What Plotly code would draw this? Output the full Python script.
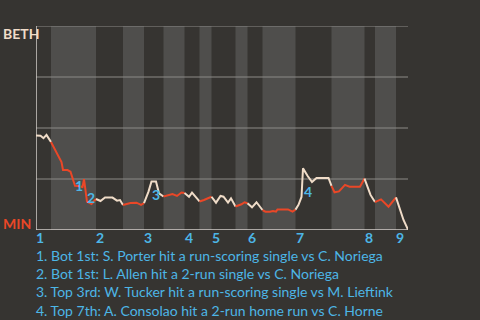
import plotly.graph_objects as go

# Half-inning boundaries (play index)
half_starts = [0, 10, 40, 58, 72, 85, 99, 109, 117, 133, 141, 151, 173, 197, 219, 226, 240, 248]
inning_labels = ["1", "2", "3", "4", "5", "6", "7", "8", "9"]

# Win probability for BETH (%) by play index
plays = [0, 3, 5, 7, 9, 10,
         12, 15, 17, 18, 21, 23, 25, 26, 28, 31, 32, 33, 34, 37, 40,
         43, 46, 51, 54, 56, 58,
         63, 67, 70, 72,
         75, 77, 80, 82, 85,
         91, 94, 97, 99,
         102, 104, 107, 109,
         112, 117,
         120, 123, 125, 128, 130, 133,
         137, 139, 141,
         144, 147, 150, 151,
         153, 156, 158, 160, 161, 168, 171, 173,
         175, 177, 178, 181, 184, 187, 195, 197,
         199, 202, 206, 209, 216, 219,
         222, 223, 226,
         230, 235, 240,
         243, 245, 248]
wp_beth = [46.3, 46.2, 45.0, 46.6, 44.3, 43.1,
           40.3, 35.9, 33.3, 29.4, 29.4, 28.6, 23.7, 21.7, 21.6, 21.1, 24.9, 19.6, 13.9, 12.7, 15.2,
           14.2, 15.9, 15.9, 14.4, 14.7, 12.3,
           13.2, 13.4, 12.3, 13.2,
           18.8, 23.8, 23.8, 18.0, 16.4,
           17.6, 16.7, 18.4, 18.1,
           16.3, 18.3, 16.0, 14.0,
           14.7, 16.3,
           13.4, 16.7, 16.3, 13.4, 15.5, 11.5,
           12.6, 13.6, 13.1,
           11.1, 13.6, 10.6, 9.8,
           9.0, 9.0, 9.3, 9.0, 10.1, 10.1, 9.0, 10.0,
           12.3, 16.2, 30.2, 26.6, 23.5, 25.5, 25.5, 21.6,
           18.5, 18.9, 22.1, 21.2, 21.2, 25.2,
           19.6, 17.2, 13.7,
           15.0, 11.4, 16.0,
           9.8, 4.9, 0.2]

# Key events
event_ids = ["1", "2", "3", "4"]
event_play = [28.7, 36.7, 80, 181.3]
event_wp = [21.6, 15.7, 17.6, 19.1]
event_text = [
    "1. Bot 1st: S. Porter hit a run-scoring single vs C. Noriega",
    "2. Bot 1st: L. Allen hit a 2-run single vs C. Noriega",
    "3. Top 3rd: W. Tucker hit a run-scoring single vs M. Lieftink",
    "4. Top 7th: A. Consolao hit a 2-run home run vs C. Horne",
]

BG = "#363431"
BAND = "#4f4e4c"
CREAM = "#f0dcc8"
RED = "#ea4727"
BLUE = "#4db6e6"
FONT = "Lato"

fig = go.Figure()

for i in range(len(half_starts) - 1):
    a, b = half_starts[i], half_starts[i + 1]
    xs = [p for p in plays if a <= p <= b]
    ys = [w for p, w in zip(plays, wp_beth) if a <= p <= b]
    fig.add_trace(go.Scatter(
        x=xs, y=ys, mode="lines",
        line=dict(color=CREAM if i % 2 == 0 else RED, width=2),
        hoverinfo="skip", showlegend=False))

shapes = []
for i in range(1, len(half_starts) - 1, 2):
    shapes.append(dict(type="rect", xref="x", yref="y", x0=half_starts[i], x1=half_starts[i + 1],
                       y0=0, y1=100, fillcolor=BAND, line=dict(width=0), layer="below"))
for g in [25, 50, 75, 100]:
    shapes.append(dict(type="line", xref="x", yref="y", x0=0, x1=248, y0=g, y1=g,
                       line=dict(color="#8c8a87", width=1), layer="below"))
shapes.append(dict(type="line", xref="x", yref="y", x0=0, x1=0, y0=0, y1=100,
                   line=dict(color="#d2cdc8", width=1.5), layer="below"))
shapes.append(dict(type="line", xref="x", yref="y", x0=0, x1=248, y0=0, y1=0,
                   line=dict(color="#d2cdc8", width=1.5), layer="below"))

annotations = []
tops = half_starts[0:-1:2]
for lbl, x in zip(inning_labels, tops):
    annotations.append(dict(x=x, y=0, xref="x", yref="y", text="<b>%s</b>" % lbl, showarrow=False,
                            xanchor="left", yanchor="top", yshift=2, xshift=-1, borderpad=0,
                            font=dict(family=FONT, size=14, color=BLUE)))
for lbl, x, y in zip(event_ids, event_play, event_wp):
    annotations.append(dict(x=x, y=y, xref="x", yref="y", text="<b>%s</b>" % lbl, showarrow=False,
                            xanchor="center", yanchor="middle",
                            font=dict(family=FONT, size=14, color=BLUE)))
annotations.append(dict(x=0, y=-52.5 / 204, xref="paper", yref="paper", text="<br>".join(event_text),
                        showarrow=False, xanchor="left", yanchor="middle", align="left", xshift=-1,
                        borderpad=0, font=dict(family=FONT, size=14, color=BLUE)))
annotations.append(dict(x=0, y=1 - 7.5 / 204, xref="paper", yref="paper", text="<b>BETH</b>",
                        showarrow=False, xanchor="left", yanchor="middle", xshift=-35,
                        font=dict(family=FONT, size=14, color=CREAM)))
annotations.append(dict(x=0, y=6.5 / 204, xref="paper", yref="paper", text="<b>MIN</b>",
                        showarrow=False, xanchor="left", yanchor="middle", xshift=-35,
                        font=dict(family=FONT, size=14, color=RED)))

fig.update_layout(
    width=480, height=320,
    margin=dict(l=36, r=72, t=26, b=90),
    paper_bgcolor=BG, plot_bgcolor=BG,
    xaxis=dict(range=[0, 248], showgrid=False, zeroline=False, showticklabels=False, fixedrange=True),
    yaxis=dict(range=[0, 100], showgrid=False, zeroline=False, showticklabels=False, fixedrange=True),
    shapes=shapes, annotations=annotations,
)

fig.write_html("out.html")
